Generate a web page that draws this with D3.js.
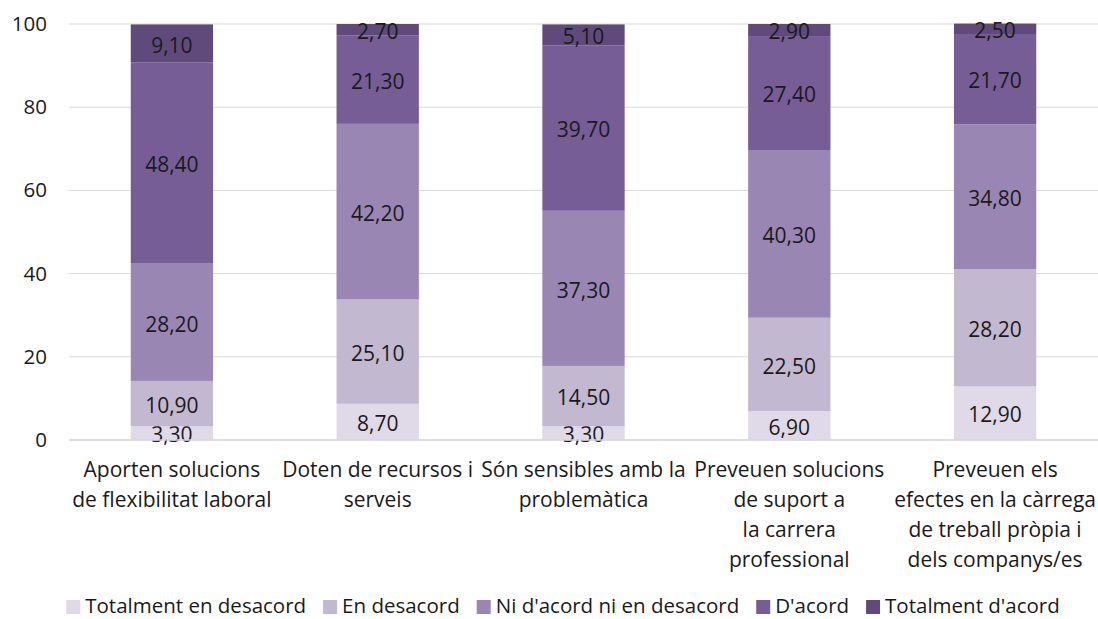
<!DOCTYPE html>
<html>
<head>
<meta charset="utf-8">
<script src="https://cdn.jsdelivr.net/npm/d3@7"></script>
<style>
  body { margin: 0; background: #fff; }
  text { font-family: "Open Sans", "Noto Sans", sans-serif; fill: #1a1a1a; }
</style>
</head>
<body>
<div id="chart"></div>
<script>
// categories, split in lines like the original axis labels
var categories = ["c1", "c2", "c3", "c4", "c5"];
var categoryLines = [
    ["Aporten solucions", "de flexibilitat laboral"],
    ["Doten de recursos i", "serveis"],
    ["Són sensibles amb la", "problemàtica"],
    ["Preveuen solucions", "de suport a", "la carrera", "professional"],
    ["Preveuen els", "efectes en la càrrega", "de treball pròpia i", "dels companys/es"]
];
var seriesNames = ["Totalment en desacord", "En desacord", "Ni d'acord ni en desacord", "D'acord", "Totalment d'acord"];
var seriesColors = ["#e0dae8", "#c2b8d0", "#9a86b3", "#765d96", "#604a7b"];

// values per series, one per category
var totDesacord = [3.3, 8.7, 3.3, 6.9, 12.9];
var enDesacord = [10.9, 25.1, 14.5, 22.5, 28.2];
var niNi = [28.2, 42.2, 37.3, 40.3, 34.8];
var dAcord = [48.4, 21.3, 39.7, 27.4, 21.7];
var totAcord = [9.1, 2.7, 5.1, 2.9, 2.5];
var yTicks = [0, 20, 40, 60, 80, 100];

var series = [totDesacord, enDesacord, niNi, dAcord, totAcord];

var width = 1098, height = 619;
var margin = {left: 69, right: 0, top: 24, bottom: 180};

var svg = d3.select("#chart").append("svg")
    .attr("width", width)
    .attr("height", height);

var x = d3.scaleBand()
    .domain(categories)
    .range([margin.left, width - margin.right])
    .paddingInner(0.6)
    .paddingOuter(0.3);

var y = d3.scaleLinear()
    .domain([0, 100])
    .range([height - margin.bottom + 1, margin.top]);

// gridlines
svg.append("g").selectAll("line")
    .data(yTicks)
    .enter().append("line")
    .attr("x1", margin.left)
    .attr("x2", width - margin.right)
    .attr("y1", function(d){ return y(d); })
    .attr("y2", function(d){ return y(d); })
    .attr("stroke", "#d9d9d9")
    .attr("stroke-width", 1);

// y tick labels
var yAxis = svg.append("g")
    .attr("transform", "translate(" + 47 + ",0)")
    .call(d3.axisLeft(y).tickValues(yTicks).tickSize(0).tickPadding(0));
yAxis.select(".domain").remove();
yAxis.selectAll("text")
    .style("font-size", "20.5px")
    .style("font-family", "\"Open Sans\", sans-serif")
    .attr("fill", "#1a1a1a");

// stack
var rows = categories.map(function(c, i){
    var r = {cat: c};
    seriesNames.forEach(function(s, k){ r[s] = series[k][i]; });
    return r;
});
var stacked = d3.stack().keys(seriesNames)(rows);

var fmt = function(v){ return v.toFixed(2).replace(".", ","); };

stacked.forEach(function(layer, k){
    var g = svg.append("g");
    g.selectAll("rect")
        .data(layer)
        .enter().append("rect")
        .attr("x", function(d){ return x(d.data.cat); })
        .attr("width", x.bandwidth())
        .attr("y", function(d){ return y(d[1]); })
        .attr("height", function(d){ return y(d[0]) - y(d[1]); })
        .attr("fill", seriesColors[k]);
    g.selectAll("text")
        .data(layer)
        .enter().append("text")
        .attr("x", function(d){ return x(d.data.cat) + x.bandwidth() / 2; })
        .attr("y", function(d){ return (y(d[0]) + y(d[1])) / 2; })
        .attr("dy", "0.44em")
        .attr("text-anchor", "middle")
        .style("font-size", "21px")
        .text(function(d){ return fmt(d[1] - d[0]); });
});

// x axis line
svg.append("line")
    .attr("x1", margin.left)
    .attr("x2", width - margin.right)
    .attr("y1", y(0))
    .attr("y2", y(0))
    .attr("stroke", "#d9d9d9")
    .attr("stroke-width", 1.5);

// category labels
var xl = svg.append("g");
categories.forEach(function(c, i){
    var t = xl.append("text")
        .attr("text-anchor", "middle")
        .style("font-size", "21px");
    categoryLines[i].forEach(function(line, j){
        t.append("tspan")
            .attr("x", x(c) + x.bandwidth() / 2)
            .attr("y", 477 + j * 30)
            .text(line);
    });
});

// legend
var legend = svg.append("g");
var items = legend.selectAll("g")
    .data(seriesNames)
    .enter().append("g");
items.append("rect")
    .attr("width", 14)
    .attr("height", 14)
    .attr("y", 600)
    .attr("fill", function(d, i){ return seriesColors[i]; });
items.append("text")
    .attr("x", 19)
    .attr("y", 613)
    .style("font-size", "20.5px")
    .text(function(d){ return d; });
var pos = 0;
var offsets = [];
items.each(function(){
    offsets.push(pos);
    var w = d3.select(this).select("text").node().getComputedTextLength();
    pos += 19 + w + 17;
});
var total = pos - 17;
var start = 563 - total / 2;
items.attr("transform", function(d, i){ return "translate(" + (start + offsets[i]) + ",0)"; });
</script>
</body>
</html>
